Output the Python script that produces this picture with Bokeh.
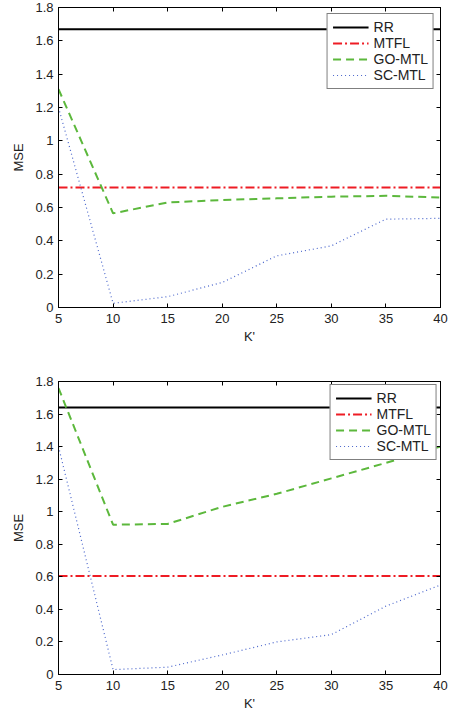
from bokeh.plotting import figure
from bokeh.models import LinearAxis, FixedTicker, Legend, LegendItem, Range1d, CustomJSTickFormatter
from bokeh.layouts import column
from bokeh.embed import file_html
from bokeh.resources import INLINE

# ---- data ----
k_values = [5, 10, 15, 20, 25, 30, 35, 40]

rr_top = 1.67
mtfl_top = 0.72
go_mtl_top = [1.31, 0.565, 0.63, 0.645, 0.655, 0.665, 0.67, 0.66]
sc_mtl_top = [1.20, 0.025, 0.065, 0.15, 0.31, 0.37, 0.53, 0.535]

rr_bottom = 1.64
mtfl_bottom = 0.605
go_mtl_bottom = [1.76, 0.92, 0.925, 1.03, 1.11, 1.205, 1.30, 1.40]
sc_mtl_bottom = [1.40, 0.03, 0.045, 0.12, 0.20, 0.245, 0.42, 0.55]

x_ticks = [5, 10, 15, 20, 25, 30, 35, 40]
y_ticks = [0, 0.2, 0.4, 0.6, 0.8, 1, 1.2, 1.4, 1.6, 1.8]
y_tick_labels = ["0", "0.2", "0.4", "0.6", "0.8", "1", "1.2", "1.4", "1.6", "1.8"]
series_names = ["RR", "MTFL", "GO-MTL", "SC-MTL"]

FONT = "Liberation Sans"


def style_axis(ax, ticks, labels=True):
    ax.ticker = FixedTicker(ticks=ticks)
    ax.minor_tick_line_color = None
    ax.major_tick_in = 4
    ax.major_tick_out = 0
    ax.major_tick_line_color = "black"
    ax.axis_line_color = "black"
    ax.major_label_text_font = FONT
    ax.major_label_text_font_size = "13px"
    ax.major_label_text_color = "#222222"
    ax.axis_label_text_font = FONT
    ax.axis_label_text_font_size = "13px"
    ax.axis_label_text_font_style = "normal"
    ax.axis_label_text_color = "#222222"
    if not labels:
        ax.formatter = CustomJSTickFormatter(code="return '';")
        ax.major_label_standoff = 0


def make_plot(rr, mtfl, go, sc, height, top_border, bottom_border, legend_margin):
    p = figure(width=449, height=height, output_backend="svg", toolbar_location=None,
               x_range=Range1d(5, 40), y_range=Range1d(0, 1.8),
               min_border_left=58, min_border_right=9,
               min_border_top=top_border, min_border_bottom=bottom_border)
    p.xgrid.visible = False
    p.ygrid.visible = False
    p.outline_line_color = "black"
    p.outline_line_width = 1
    p.background_fill_color = "white"

    style_axis(p.xaxis[0], x_ticks)
    style_axis(p.yaxis[0], y_ticks)
    p.yaxis[0].major_label_overrides = {t: s for t, s in zip(y_ticks, y_tick_labels)}
    p.xaxis[0].axis_label = "K'"
    p.xaxis[0].axis_label_standoff = 3
    p.xaxis[0].major_label_standoff = 6
    p.yaxis[0].axis_label = "MSE"
    p.yaxis[0].axis_label_standoff = 6
    p.yaxis[0].major_label_standoff = 5

    top_ax = LinearAxis()
    style_axis(top_ax, x_ticks, labels=False)
    p.add_layout(top_ax, "above")
    right_ax = LinearAxis()
    style_axis(right_ax, y_ticks, labels=False)
    p.add_layout(right_ax, "right")

    r_rr = p.line(k_values, [rr] * len(k_values), line_color="black", line_width=2)
    r_mtfl = p.line(k_values, [mtfl] * len(k_values), line_color="#ee1c24",
                    line_width=2, line_dash="9 3 2 3")
    r_go = p.line(k_values, go, line_color="#5cb83c", line_width=2, line_dash="8 5")
    r_sc = p.line(k_values, sc, line_color="#4a66cc", line_width=1.2, line_dash="1 3")

    legend = Legend(items=[LegendItem(label=n, renderers=[r]) for n, r in
                           zip(series_names, [r_rr, r_mtfl, r_go, r_sc])],
                    location="top_right")
    legend.margin = legend_margin
    legend.padding = 5
    legend.spacing = 0
    legend.label_height = 16
    legend.glyph_height = 16
    legend.glyph_width = 36
    legend.label_standoff = 5
    legend.label_text_font = FONT
    legend.label_text_font_size = "14px"
    legend.label_text_color = "#222222"
    legend.border_line_color = "black"
    legend.border_line_width = 1.5
    legend.background_fill_color = "white"
    legend.background_fill_alpha = 1
    p.add_layout(legend)
    return p


p_top = make_plot(rr_top, mtfl_top, go_mtl_top, sc_mtl_top, 360, 7, 53, 6)
p_bottom = make_plot(rr_bottom, mtfl_bottom, go_mtl_bottom, sc_mtl_bottom, 353, 21, 37, 3)

layout = column(p_top, p_bottom, spacing=0)
open("out.html", "w").write(file_html(layout, INLINE))
